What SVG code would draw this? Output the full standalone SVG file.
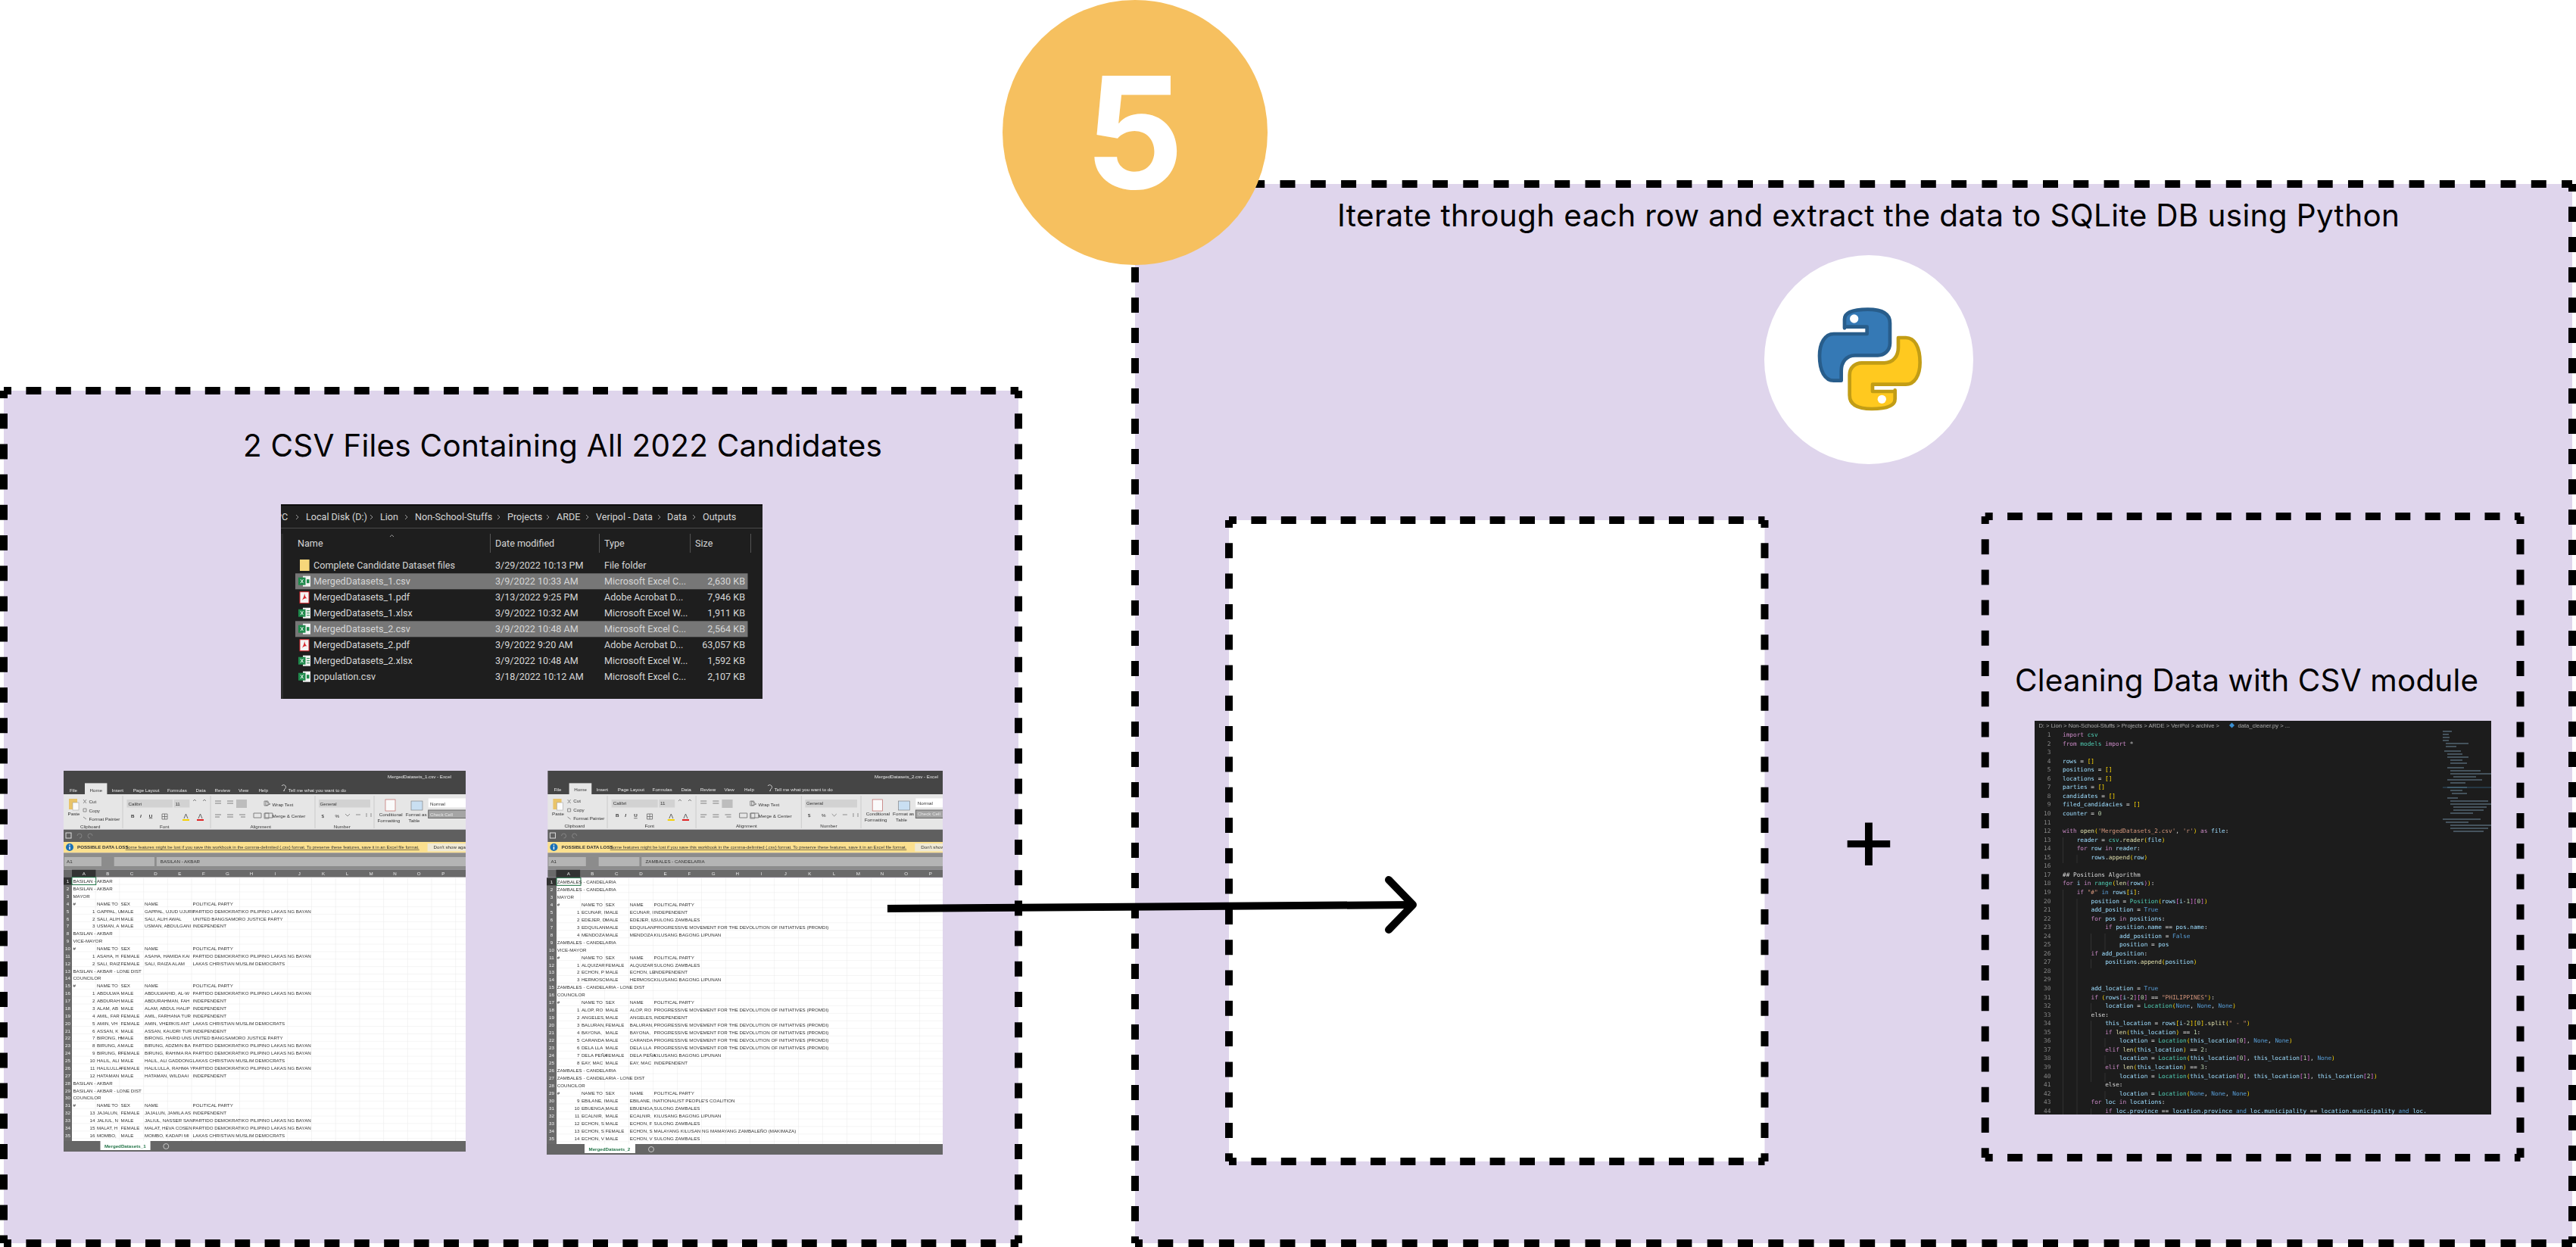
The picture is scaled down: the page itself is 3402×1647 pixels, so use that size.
<svg xmlns="http://www.w3.org/2000/svg" width="3402" height="1647" viewBox="0 0 3402 1647">
<style>
text{font-family:"Inter","Liberation Sans",sans-serif}
.dash{fill:none;stroke:#000;stroke-width:10;stroke-dashoffset:10}
.title{font-size:40.5px;fill:#000}
.fe{font-family:"Roboto","Liberation Sans",sans-serif;font-size:12.6px;fill:#d6d6d6}
.xl text,text.xl{font-family:"Liberation Sans",sans-serif;font-size:6.2px;fill:#333}
.xl .w,.xl text.w{fill:#e8e8e8}
.rn{text-anchor:middle;fill:#f0f0f0}
.r{text-anchor:end}
.code text{font-family:"DejaVu Sans Mono","Liberation Mono",monospace;font-size:7.76px;fill:#d4d4d4}
.code .ln{fill:#858585;text-anchor:end}
.code .crumb{font-family:"Liberation Sans",sans-serif;font-size:7.6px;fill:#a8a8a8}
.k{fill:#c586c0}.v{fill:#9cdcfe}.f{fill:#dcdcaa}.c{fill:#4ec9b0}.b{fill:#569cd6}.s{fill:#ce9178}.g{fill:#6a9955}.y{fill:#ffd700}.m{fill:#da70d6}.n{fill:#b5cea8}
</style>
<defs>
<filter id="soft" x="0" y="0" width="1" height="1"><feGaussianBlur stdDeviation=".2"/></filter>
<pattern id="grid1" patternUnits="userSpaceOnUse" x="95" y="1158.7" width="31.7" height="9.87"><path d="M31.7 0V9.87M0 9.87H31.7" stroke="#e2e2e2" stroke-width=".7" fill="none"/></pattern>
<pattern id="grid2" patternUnits="userSpaceOnUse" x="735" y="1159.4" width="32" height="9.97"><path d="M32 0V9.97M0 9.97H32" stroke="#e2e2e2" stroke-width=".7" fill="none"/></pattern>
<clipPath id="clip1"><rect x="84" y="1018" width="531" height="503"/></clipPath>
<clipPath id="clip2"><rect x="722" y="1018" width="523" height="507"/></clipPath>
<clipPath id="clipfe"><rect x="371" y="666" width="636" height="257"/></clipPath>
<g id="ic-csv"><rect x="6" y="-7" width="10" height="14" fill="#f2f2f2"/><rect x="0" y="-5" width="9.5" height="10" fill="#1f8a4c"/><path d="M3-2.5 6.5 2.5M6.5-2.5 3 2.5" stroke="#fff" stroke-width="1"/><rect x="11" y="-2.5" width="3.5" height="5" fill="#1f8a4c"/></g>
<g id="ic-xlsx"><rect x="6" y="-7" width="10" height="14" fill="#f2f2f2"/><rect x="0" y="-5" width="9.5" height="10" fill="#1f8a4c"/><path d="M3-2.5 6.5 2.5M6.5-2.5 3 2.5" stroke="#fff" stroke-width="1"/><path d="M11-3H15M11 0H15M11 3H15" stroke="#1f8a4c" stroke-width="1"/></g>
<g id="ic-pdf"><rect x="2" y="-7" width="12" height="15" fill="#f4f4f4" stroke="#d8232a" stroke-width="1"/><path d="M5 4C7 0 8-2 8-5 9-2 9 0 12 2 9 1 7 2 5 4Z" fill="#d8232a"/></g>
<g id="xl-chrome">
<rect x="84" y="1018" width="531" height="31" fill="#444"/>
<rect x="112" y="1034.4" width="29.4" height="15" fill="#e6e6e6"/>
<rect x="84" y="1049" width="531" height="46.7" fill="#e6e6e6"/>
<rect x="84" y="1095.7" width="531" height="16.3" fill="#5f5f5f"/>
<rect x="84" y="1112" width="531" height="14.4" fill="#fbe08f"/>
<rect x="84" y="1126.4" width="531" height="22.4" fill="#8c8c8c"/>
<rect x="85" y="1132" width="49" height="12" fill="#b4b4b4"/><rect x="150.7" y="1132" width="53.3" height="12" fill="#b4b4b4"/><rect x="206.8" y="1132" width="408.2" height="12" fill="#b4b4b4"/>
<rect x="84" y="1148.8" width="531" height="10" fill="#6a6a6a"/>
<rect x="95" y="1148.8" width="31.4" height="10" fill="#333"/>
<path d="M162 1051V1094M278 1051V1094M416 1051V1094M494 1051V1094" stroke="#c4c4c4" stroke-width=".8" fill="none"/>
<rect x="167.5" y="1056" width="60.5" height="10.5" fill="#d2d2d2"/><rect x="229.6" y="1056" width="20.7" height="10.5" fill="#d2d2d2"/><rect x="421" y="1056" width="68" height="10.5" fill="#d2d2d2"/>
<rect x="565.7" y="1054.4" width="50" height="12" fill="#fff"/><rect x="565.7" y="1070" width="50" height="10.5" fill="#a5a5a5" stroke="#666" stroke-width="1"/>
<rect x="564.6" y="1114" width="50.4" height="10.5" fill="#efe9d4"/>
<rect x="91" y="1055" width="11" height="14" fill="#e9c46a"/><rect x="96" y="1060" width="8" height="10" fill="#fafafa" stroke="#999" stroke-width=".5"/>
<path d="M110 1056l4 5M114 1056l-4 5M110 1068h4v4h-4zM110 1079l4 3" stroke="#777" stroke-width=".8" fill="none"/>
<path d="M284 1058h8M284 1061h8M300 1058h8M300 1061h8M284 1076h8M284 1079h6M300 1076h8M300 1079h8M316 1076h8M318 1079h6M335 1074h10v6h-10zM350 1074h10v6h-10zM351 1058l6 4-6 2z" stroke="#777" stroke-width=".9" fill="none"/>
<rect x="312" y="1056" width="14" height="11" fill="#bdbdbd"/>
<path d="M349 1058h5v6h-5zM349 1074h6v7h-6zM456 1075l3 3 3-3M470 1076h6M484 1074v5M490 1074v5" stroke="#777" stroke-width=".8" fill="none"/>
<path d="M214 1075h7v7h-7zM217.500 1075v7M214 1078.500h7M255 1058l2-2 2 2M268 1058l2-2 2 2" stroke="#666" stroke-width=".8" fill="none"/>
<rect x="241" y="1082" width="9" height="2" fill="#f5d000"/><rect x="260" y="1082" width="9" height="2" fill="#e02020"/>
<path d="M243 1081l2.500-6 2.500 6M262 1081l2.500-6 2.500 6" stroke="#555" stroke-width=".9" fill="none"/>
<rect x="509" y="1056" width="13" height="15" fill="#fafafa" stroke="#b85450" stroke-width=".6"/><rect x="543" y="1058" width="15" height="12" fill="#c9dff2" stroke="#777" stroke-width=".6"/>
<rect x="87" y="1100" width="7" height="7" fill="none" stroke="#ddd" stroke-width="1"/><path d="M102 1104a3 3 0 1 1 3 3M122 1104a3 3 0 1 0-3 3" stroke="#8d8d8d" stroke-width=".8" fill="none"/>
<circle cx="92" cy="1119" r="5" fill="#1a6fb5"/><rect x="91.3" y="1118" width="1.4" height="4" fill="#fff"/><rect x="91.3" y="1115.6" width="1.4" height="1.4" fill="#fff"/>
<path d="M372 1038a3 3 0 1 1 3.500 4.500v2h-1.500" stroke="#e4e4e4" stroke-width=".8" fill="none"/>
<g class="xl">
<text y="1045.5" class="w"><tspan x="92">File</tspan><tspan x="147.5">Insert</tspan><tspan x="175.7">Page Layout</tspan><tspan x="221">Formulas</tspan><tspan x="258.6">Data</tspan><tspan x="283.6">Review</tspan><tspan x="315">View</tspan><tspan x="341.4">Help</tspan><tspan x="380.7">Tell me what you want to do</tspan></text>
<text x="118.6" y="1045.5">Home</text>
<text x="89.6" y="1077">Paste</text><text x="117.5" y="1060.5">Cut</text><text x="117.5" y="1072.5">Copy</text><text x="117.5" y="1083.5">Format Painter</text><text x="106" y="1093.5">Clipboard</text>
<text x="169.6" y="1063.5">Calibri</text><text x="231.4" y="1063.5">11</text>
<text y="1079.5" font-weight="700"><tspan x="172.9">B</tspan><tspan x="185" font-style="italic">I</tspan><tspan x="196.8" text-decoration="underline">U</tspan></text>
<text x="211" y="1093.5">Font</text><text x="359.6" y="1065">Wrap Text</text><text x="359.6" y="1080">Merge &amp; Center</text><text x="330.4" y="1093.5">Alignment</text>
<text x="422.5" y="1063.5">General</text><text x="424.6" y="1079.5">$</text><text x="442.5" y="1079.5">%</text><text x="440.7" y="1093.5">Number</text>
<text x="500.7" y="1077.5">Conditional</text><text x="498.6" y="1085.5">Formatting</text><text x="535.7" y="1077.5">Format as</text><text x="539.6" y="1085.5">Table</text>
<text x="568" y="1063.5">Normal</text><text x="568" y="1077.5" class="w">Check Cell</text>
<text x="102" y="1121.2" font-weight="700">POSSIBLE DATA LOSS</text>
<text x="165.7" y="1121.2" text-decoration="underline" textLength="388" lengthAdjust="spacingAndGlyphs">Some features might be lost if you save this workbook in the comma-delimited (.csv) format. To preserve these features, save it in an Excel file format.</text>
<text x="572.5" y="1121.2">Don't show again</text>
<text x="88" y="1140">A1</text>
</g>
</g>
</defs>
<rect width="3402" height="1647" fill="#fff"/>

<g id="panel-csv">
<rect x="5" y="516" width="1340" height="1126" fill="#dfd5ec"/>
<path class="dash" stroke-dasharray="20 19.4" d="M5 516H1345M5 1642H1345"/>
<path class="dash" stroke-dasharray="20 20.2" d="M5 516V1642M1345 516V1642"/>
<text class="title" x="321" y="603" textLength="844">2 CSV Files Containing All 2022 Candidates</text>
</g>

<g id="panel-python">
<rect x="1499" y="243" width="1898" height="1399" fill="#dfd5ec"/>
<path class="dash" stroke-dasharray="20 20.3" d="M1499 243H3397M1499 1642H3397"/>
<path class="dash" stroke-dasharray="20 20" d="M1499 243V1642M3397 243V1642"/>
<text class="title" x="1766" y="299" textLength="1403">Iterate through each row and extract the data to SQLite DB using Python</text>
</g>

<g id="step-badge">
<circle cx="1499" cy="175" r="175" fill="#f6c05f"/>
<text x="1498" y="249" text-anchor="middle" font-size="205" font-weight="700" fill="#fff">5</text>
</g>

<g id="python-logo">
<circle cx="2468" cy="475" r="138" fill="#fff"/>
<g transform="translate(2300 320) scale(.3333)" stroke-width="14" stroke-linejoin="round">
<path fill="#3579b5" stroke="#285d8b" d="M408 340V305C408 275 445 266 500 266 560 266 588 285 588 320V400C588 430 565 448 540 448H450C415 448 395 475 395 510V548H365C330 548 309 510 309 450 309 400 330 363 365 363H497V335H408Z"/>
<path fill="#ffc91f" stroke="#c29d15" transform="rotate(180 508 463)" d="M408 340V305C408 275 445 266 500 266 560 266 588 285 588 320V400C588 430 565 448 540 448H450C415 448 395 475 395 510V548H365C330 548 309 510 309 450 309 400 330 363 365 363H497V335H408Z"/>
<circle cx="446" cy="303" r="17" fill="#fff" stroke="none"/><circle cx="556" cy="622" r="17" fill="#fff" stroke="none"/>
</g>
</g>

<g id="file-explorer" clip-path="url(#clipfe)">
<rect x="371" y="666" width="636" height="257" fill="#1e1e1e"/>
<rect x="371" y="666" width="636" height="2" fill="#0d0d0d"/>
<rect x="371" y="697" width="636" height="1" fill="#4a4a4a"/>
<rect x="371" y="705" width="3" height="218" fill="#2c2c2c"/>
<text class="fe" y="687"><tspan x="364">PC</tspan><tspan x="404">Local Disk (D:)</tspan><tspan x="502">Lion</tspan><tspan x="548">Non-School-Stuffs</tspan><tspan x="670">Projects</tspan><tspan x="735">ARDE</tspan><tspan x="787">Veripol - Data</tspan><tspan x="881">Data</tspan><tspan x="928">Outputs</tspan></text>
<path d="M391 680l3 3-3 3M489 680l3 3-3 3M535 680l3 3-3 3M657 680l3 3-3 3M722 680l3 3-3 3M774 680l3 3-3 3M869 680l3 3-3 3M915 680l3 3-3 3M515 709l2.500-2.500 2.500 2.500" fill="none" stroke="#9a9a9a" stroke-width="1"/>
<path d="M647.500 705V730M791.500 705V730M911.600 705V730M991.500 705V730" stroke="#555" stroke-width="1"/>
<text class="fe" y="722"><tspan x="393">Name</tspan><tspan x="654">Date modified</tspan><tspan x="798">Type</tspan><tspan x="918">Size</tspan></text>
<rect x="390" y="757.300" width="597.500" height="21" fill="#777"/><rect x="390" y="820.300" width="597.500" height="21" fill="#777"/>
<rect x="396" y="739" width="12.600" height="15" fill="#f6d77a"/>
<use href="#ic-csv" x="394" y="767.700"/><use href="#ic-pdf" x="394" y="788.700"/><use href="#ic-xlsx" x="394" y="809.700"/><use href="#ic-csv" x="394" y="830.700"/><use href="#ic-pdf" x="394" y="851.700"/><use href="#ic-xlsx" x="394" y="872.700"/><use href="#ic-csv" x="394" y="893.700"/>
<text class="fe" y="751"><tspan x="414">Complete Candidate Dataset files</tspan><tspan x="654">3/29/2022 10:13 PM</tspan><tspan x="798">File folder</tspan></text>
<text class="fe" y="772"><tspan x="414">MergedDatasets_1.csv</tspan><tspan x="654">3/9/2022 10:33 AM</tspan><tspan x="798">Microsoft Excel C...</tspan><tspan x="984" class="r">2,630 KB</tspan></text>
<text class="fe" y="793"><tspan x="414">MergedDatasets_1.pdf</tspan><tspan x="654">3/13/2022 9:25 PM</tspan><tspan x="798">Adobe Acrobat D...</tspan><tspan x="984" class="r">7,946 KB</tspan></text>
<text class="fe" y="814"><tspan x="414">MergedDatasets_1.xlsx</tspan><tspan x="654">3/9/2022 10:32 AM</tspan><tspan x="798">Microsoft Excel W...</tspan><tspan x="984" class="r">1,911 KB</tspan></text>
<text class="fe" y="835"><tspan x="414">MergedDatasets_2.csv</tspan><tspan x="654">3/9/2022 10:48 AM</tspan><tspan x="798">Microsoft Excel C...</tspan><tspan x="984" class="r">2,564 KB</tspan></text>
<text class="fe" y="856"><tspan x="414">MergedDatasets_2.pdf</tspan><tspan x="654">3/9/2022 9:20 AM</tspan><tspan x="798">Adobe Acrobat D...</tspan><tspan x="984" class="r">63,057 KB</tspan></text>
<text class="fe" y="877"><tspan x="414">MergedDatasets_2.xlsx</tspan><tspan x="654">3/9/2022 10:48 AM</tspan><tspan x="798">Microsoft Excel W...</tspan><tspan x="984" class="r">1,592 KB</tspan></text>
<text class="fe" y="898"><tspan x="414">population.csv</tspan><tspan x="654">3/18/2022 10:12 AM</tspan><tspan x="798">Microsoft Excel C...</tspan><tspan x="984" class="r">2,107 KB</tspan></text>
</g>

<g id="sheet-1" class="xl" clip-path="url(#clip1)"><g filter="url(#soft)">
<use href="#xl-chrome"/>
<text x="596" y="1028" class="w r">MergedDatasets_1.csv  -  Excel</text>
<text x="211.800" y="1140">BASILAN - AKBAR</text>
<rect x="95" y="1158.700" width="520" height="348.300" fill="#fff"/><rect x="95" y="1158.700" width="520" height="348.300" fill="url(#grid1)"/>
<rect x="84" y="1158.700" width="11" height="348.300" fill="#6a6a6a"/>
<rect x="84" y="1158.700" width="11" height="9.870" fill="#333"/>
<rect x="95" y="1158.700" width="31.700" height="9.870" fill="none" stroke="#217346" stroke-width="1"/>
<rect x="84" y="1507" width="531" height="14" fill="#666"/><rect x="132.500" y="1507" width="66.100" height="12" fill="#fff"/><circle cx="219.300" cy="1514" r="3.500" fill="none" stroke="#ddd" stroke-width=".8"/>
<text x="137.900" y="1516" font-weight="700" style="fill:#217346">MergedDatasets_1</text>
<text y="1156" class="w" text-anchor="middle"><tspan x="110.700">A</tspan><tspan x="142.300">B</tspan><tspan x="173.900">C</tspan><tspan x="205.500">D</tspan><tspan x="237.300">E</tspan><tspan x="268.800">F</tspan><tspan x="300.400">G</tspan><tspan x="332.100">H</tspan><tspan x="363.600">I</tspan><tspan x="395.300">J</tspan><tspan x="427">K</tspan><tspan x="458.400">L</tspan><tspan x="490.200">M</tspan><tspan x="521.600">N</tspan><tspan x="553.200">O</tspan><tspan x="585.200">P</tspan></text>
<text y="1166.100"><tspan x="89.500" class="rn">1</tspan><tspan x="96.400">BASILAN - AKBAR</tspan></text>
<text y="1176"><tspan x="89.500" class="rn">2</tspan><tspan x="96.400">BASILAN - AKBAR</tspan></text>
<text y="1185.800"><tspan x="89.500" class="rn">3</tspan><tspan x="96.400">MAYOR</tspan></text>
<text y="1195.700"><tspan x="89.500" class="rn">4</tspan><tspan x="96.400">#</tspan><tspan x="127.900">NAME TO</tspan><tspan x="159.600">SEX</tspan><tspan x="191">NAME</tspan><tspan x="254.600">POLITICAL PARTY</tspan></text>
<text y="1205.600"><tspan x="89.500" class="rn">5</tspan><tspan x="125.400" class="r">1</tspan><tspan x="127.900">GAPPAL, U</tspan><tspan x="159.600">MALE</tspan><tspan x="191">GAPPAL, UJUD UJURI</tspan><tspan x="254.600">PARTIDO DEMOKRATIKO PILIPINO LAKAS NG BAYAN</tspan></text>
<text y="1215.500"><tspan x="89.500" class="rn">6</tspan><tspan x="125.400" class="r">2</tspan><tspan x="127.900">SALI, ALIH</tspan><tspan x="159.600">MALE</tspan><tspan x="191">SALI, ALIH AWAL</tspan><tspan x="254.600">UNITED BANGSAMORO JUSTICE PARTY</tspan></text>
<text y="1225.300"><tspan x="89.500" class="rn">7</tspan><tspan x="125.400" class="r">3</tspan><tspan x="127.900">USMAN, A</tspan><tspan x="159.600">MALE</tspan><tspan x="191">USMAN, ABDULGANI</tspan><tspan x="254.600">INDEPENDENT</tspan></text>
<text y="1235.200"><tspan x="89.500" class="rn">8</tspan><tspan x="96.400">BASILAN - AKBAR</tspan></text>
<text y="1245.100"><tspan x="89.500" class="rn">9</tspan><tspan x="96.400">VICE-MAYOR</tspan></text>
<text y="1254.900"><tspan x="89.500" class="rn">10</tspan><tspan x="96.400">#</tspan><tspan x="127.900">NAME TO</tspan><tspan x="159.600">SEX</tspan><tspan x="191">NAME</tspan><tspan x="254.600">POLITICAL PARTY</tspan></text>
<text y="1264.800"><tspan x="89.500" class="rn">11</tspan><tspan x="125.400" class="r">1</tspan><tspan x="127.900">ASAHA, H</tspan><tspan x="159.600">FEMALE</tspan><tspan x="191">ASAHA, HAMIDA KAI</tspan><tspan x="254.600">PARTIDO DEMOKRATIKO PILIPINO LAKAS NG BAYAN</tspan></text>
<text y="1274.700"><tspan x="89.500" class="rn">12</tspan><tspan x="125.400" class="r">2</tspan><tspan x="127.900">SALI, RAIZ</tspan><tspan x="159.600">FEMALE</tspan><tspan x="191">SALI, RAIZA ALAM</tspan><tspan x="254.600">LAKAS CHRISTIAN  MUSLIM DEMOCRATS</tspan></text>
<text y="1284.500"><tspan x="89.500" class="rn">13</tspan><tspan x="96.400">BASILAN - AKBAR - LONE DIST</tspan></text>
<text y="1294.400"><tspan x="89.500" class="rn">14</tspan><tspan x="96.400">COUNCILOR</tspan></text>
<text y="1304.300"><tspan x="89.500" class="rn">15</tspan><tspan x="96.400">#</tspan><tspan x="127.900">NAME TO</tspan><tspan x="159.600">SEX</tspan><tspan x="191">NAME</tspan><tspan x="254.600">POLITICAL PARTY</tspan></text>
<text y="1314.200"><tspan x="89.500" class="rn">16</tspan><tspan x="125.400" class="r">1</tspan><tspan x="127.900">ABDULWA</tspan><tspan x="159.600">MALE</tspan><tspan x="191">ABDULWAHID, AL-W</tspan><tspan x="254.600">PARTIDO DEMOKRATIKO PILIPINO LAKAS NG BAYAN</tspan></text>
<text y="1324"><tspan x="89.500" class="rn">17</tspan><tspan x="125.400" class="r">2</tspan><tspan x="127.900">ABDURAH</tspan><tspan x="159.600">MALE</tspan><tspan x="191">ABDURAHMAN, FAH</tspan><tspan x="254.600">INDEPENDENT</tspan></text>
<text y="1333.900"><tspan x="89.500" class="rn">18</tspan><tspan x="125.400" class="r">3</tspan><tspan x="127.900">ALAM, AB</tspan><tspan x="159.600">MALE</tspan><tspan x="191">ALAM, ABDUL HALIP</tspan><tspan x="254.600">INDEPENDENT</tspan></text>
<text y="1343.800"><tspan x="89.500" class="rn">19</tspan><tspan x="125.400" class="r">4</tspan><tspan x="127.900">AMIL, FAR</tspan><tspan x="159.600">FEMALE</tspan><tspan x="191">AMIL, FARHANA TUR</tspan><tspan x="254.600">INDEPENDENT</tspan></text>
<text y="1353.600"><tspan x="89.500" class="rn">20</tspan><tspan x="125.400" class="r">5</tspan><tspan x="127.900">AMIN, VH</tspan><tspan x="159.600">FEMALE</tspan><tspan x="191">AMIN, VHERKIS ANT</tspan><tspan x="254.600">LAKAS CHRISTIAN  MUSLIM DEMOCRATS</tspan></text>
<text y="1363.500"><tspan x="89.500" class="rn">21</tspan><tspan x="125.400" class="r">6</tspan><tspan x="127.900">ASSAN, K</tspan><tspan x="159.600">MALE</tspan><tspan x="191">ASSAN, KAUDRI TUR</tspan><tspan x="254.600">INDEPENDENT</tspan></text>
<text y="1373.400"><tspan x="89.500" class="rn">22</tspan><tspan x="125.400" class="r">7</tspan><tspan x="127.900">BIRONG, H</tspan><tspan x="159.600">MALE</tspan><tspan x="191">BIRONG, HARID UNS</tspan><tspan x="254.600">UNITED BANGSAMORO JUSTICE PARTY</tspan></text>
<text y="1383.200"><tspan x="89.500" class="rn">23</tspan><tspan x="125.400" class="r">8</tspan><tspan x="127.900">BIRUNG, A</tspan><tspan x="159.600">MALE</tspan><tspan x="191">BIRUNG, ADZMIN BA</tspan><tspan x="254.600">PARTIDO DEMOKRATIKO PILIPINO LAKAS NG BAYAN</tspan></text>
<text y="1393.100"><tspan x="89.500" class="rn">24</tspan><tspan x="125.400" class="r">9</tspan><tspan x="127.900">BIRUNG, R</tspan><tspan x="159.600">FEMALE</tspan><tspan x="191">BIRUNG, RAHIMA RA</tspan><tspan x="254.600">PARTIDO DEMOKRATIKO PILIPINO LAKAS NG BAYAN</tspan></text>
<text y="1403"><tspan x="89.500" class="rn">25</tspan><tspan x="125.400" class="r">10</tspan><tspan x="127.900">HALIL, ALI</tspan><tspan x="159.600">MALE</tspan><tspan x="191">HALIL, ALI GADDONG</tspan><tspan x="254.600">LAKAS CHRISTIAN  MUSLIM DEMOCRATS</tspan></text>
<text y="1412.900"><tspan x="89.500" class="rn">26</tspan><tspan x="125.400" class="r">11</tspan><tspan x="127.900">HALILULLA</tspan><tspan x="159.600">FEMALE</tspan><tspan x="191">HALILULLA, RAHMA Y</tspan><tspan x="254.600">PARTIDO DEMOKRATIKO PILIPINO LAKAS NG BAYAN</tspan></text>
<text y="1422.700"><tspan x="89.500" class="rn">27</tspan><tspan x="125.400" class="r">12</tspan><tspan x="127.900">HATAMAN</tspan><tspan x="159.600">MALE</tspan><tspan x="191">HATAMAN, WILDAAI</tspan><tspan x="254.600">INDEPENDENT</tspan></text>
<text y="1432.600"><tspan x="89.500" class="rn">28</tspan><tspan x="96.400">BASILAN - AKBAR</tspan></text>
<text y="1442.500"><tspan x="89.500" class="rn">29</tspan><tspan x="96.400">BASILAN - AKBAR - LONE DIST</tspan></text>
<text y="1452.300"><tspan x="89.500" class="rn">30</tspan><tspan x="96.400">COUNCILOR</tspan></text>
<text y="1462.200"><tspan x="89.500" class="rn">31</tspan><tspan x="96.400">#</tspan><tspan x="127.900">NAME TO</tspan><tspan x="159.600">SEX</tspan><tspan x="191">NAME</tspan><tspan x="254.600">POLITICAL PARTY</tspan></text>
<text y="1472.100"><tspan x="89.500" class="rn">32</tspan><tspan x="125.400" class="r">13</tspan><tspan x="127.900">JAJALUN,</tspan><tspan x="159.600">FEMALE</tspan><tspan x="191">JAJALUN, JAMILA AS</tspan><tspan x="254.600">INDEPENDENT</tspan></text>
<text y="1481.900"><tspan x="89.500" class="rn">33</tspan><tspan x="125.400" class="r">14</tspan><tspan x="127.900">JALIUL, N</tspan><tspan x="159.600">MALE</tspan><tspan x="191">JALIUL, NASSER SAN</tspan><tspan x="254.600">PARTIDO DEMOKRATIKO PILIPINO LAKAS NG BAYAN</tspan></text>
<text y="1491.800"><tspan x="89.500" class="rn">34</tspan><tspan x="125.400" class="r">15</tspan><tspan x="127.900">MALAT, H</tspan><tspan x="159.600">FEMALE</tspan><tspan x="191">MALAT, HEVA COSEN</tspan><tspan x="254.600">PARTIDO DEMOKRATIKO PILIPINO LAKAS NG BAYAN</tspan></text>
<text y="1501.700"><tspan x="89.500" class="rn">35</tspan><tspan x="125.400" class="r">16</tspan><tspan x="127.900">MOMBO,</tspan><tspan x="159.600">MALE</tspan><tspan x="191">MOMBO, KADAPI MI</tspan><tspan x="254.600">LAKAS CHRISTIAN  MUSLIM DEMOCRATS</tspan></text>
</g></g>

<g id="sheet-2" class="xl" clip-path="url(#clip2)"><g filter="url(#soft)">
<use href="#xl-chrome" transform="translate(638.600 0) scale(1.009 1)"/>
<text x="1239" y="1028" class="w r">MergedDatasets_2.csv  -  Excel</text>
<text x="852.500" y="1140">ZAMBALES - CANDELARIA</text>
<rect x="735" y="1159.400" width="510" height="351.600" fill="#fff"/><rect x="735" y="1159.400" width="510" height="351.600" fill="url(#grid2)"/>
<rect x="722" y="1159.400" width="13" height="351.600" fill="#6a6a6a"/>
<rect x="722" y="1159.400" width="13" height="9.970" fill="#333"/>
<rect x="735" y="1159.400" width="32" height="9.970" fill="none" stroke="#217346" stroke-width="1"/>
<rect x="722" y="1511" width="523" height="14" fill="#666"/><rect x="772" y="1511" width="67" height="12" fill="#fff"/><circle cx="860" cy="1518" r="3.500" fill="none" stroke="#ddd" stroke-width=".8"/>
<text x="777.500" y="1520" font-weight="700" style="fill:#217346">MergedDatasets_2</text>
<text y="1156" class="w" text-anchor="middle"><tspan x="750.700">A</tspan><tspan x="782.300">B</tspan><tspan x="814.300">C</tspan><tspan x="846.400">D</tspan><tspan x="878.500">E</tspan><tspan x="910.500">F</tspan><tspan x="942.200">G</tspan><tspan x="973.700">H</tspan><tspan x="1005.500">I</tspan><tspan x="1037.300">J</tspan><tspan x="1069.300">K</tspan><tspan x="1101.400">L</tspan><tspan x="1133.400">M</tspan><tspan x="1165.100">N</tspan><tspan x="1196.700">O</tspan><tspan x="1228.700">P</tspan></text>
<text y="1166.800"><tspan x="728.500" class="rn">1</tspan><tspan x="735.700">ZAMBALES - CANDELARIA</tspan></text>
<text y="1176.800"><tspan x="728.500" class="rn">2</tspan><tspan x="735.700">ZAMBALES - CANDELARIA</tspan></text>
<text y="1186.700"><tspan x="728.500" class="rn">3</tspan><tspan x="735.700">MAYOR</tspan></text>
<text y="1196.700"><tspan x="728.500" class="rn">4</tspan><tspan x="735.700">#</tspan><tspan x="767.900">NAME TO</tspan><tspan x="799.600">SEX</tspan><tspan x="831.800">NAME</tspan><tspan x="863.600">POLITICAL PARTY</tspan></text>
<text y="1206.700"><tspan x="728.500" class="rn">5</tspan><tspan x="765.400" class="r">1</tspan><tspan x="767.900">ECUNAR, I</tspan><tspan x="799.600">MALE</tspan><tspan x="831.800">ECUNAR, I</tspan><tspan x="863.600">INDEPENDENT</tspan></text>
<text y="1216.700"><tspan x="728.500" class="rn">6</tspan><tspan x="765.400" class="r">2</tspan><tspan x="767.900">EDEJER, D</tspan><tspan x="799.600">MALE</tspan><tspan x="831.800">EDEJER, IL</tspan><tspan x="863.600">SULONG ZAMBALES</tspan></text>
<text y="1226.600"><tspan x="728.500" class="rn">7</tspan><tspan x="765.400" class="r">3</tspan><tspan x="767.900">EDQUILAN</tspan><tspan x="799.600">MALE</tspan><tspan x="831.800">EDQUILAN</tspan><tspan x="863.600">PROGRESSIVE MOVEMENT FOR THE DEVOLUTION OF INITIATIVES (PROMDI)</tspan></text>
<text y="1236.600"><tspan x="728.500" class="rn">8</tspan><tspan x="765.400" class="r">4</tspan><tspan x="767.900">MENDOZA</tspan><tspan x="799.600">MALE</tspan><tspan x="831.800">MENDOZA</tspan><tspan x="863.600">KILUSANG BAGONG LIPUNAN</tspan></text>
<text y="1246.600"><tspan x="728.500" class="rn">9</tspan><tspan x="735.700">ZAMBALES - CANDELARIA</tspan></text>
<text y="1256.500"><tspan x="728.500" class="rn">10</tspan><tspan x="735.700">VICE-MAYOR</tspan></text>
<text y="1266.500"><tspan x="728.500" class="rn">11</tspan><tspan x="735.700">#</tspan><tspan x="767.900">NAME TO</tspan><tspan x="799.600">SEX</tspan><tspan x="831.800">NAME</tspan><tspan x="863.600">POLITICAL PARTY</tspan></text>
<text y="1276.500"><tspan x="728.500" class="rn">12</tspan><tspan x="765.400" class="r">1</tspan><tspan x="767.900">ALQUIZAR</tspan><tspan x="799.600">FEMALE</tspan><tspan x="831.800">ALQUIZAR</tspan><tspan x="863.600">SULONG ZAMBALES</tspan></text>
<text y="1286.400"><tspan x="728.500" class="rn">13</tspan><tspan x="765.400" class="r">2</tspan><tspan x="767.900">ECHON, P</tspan><tspan x="799.600">MALE</tspan><tspan x="831.800">ECHON, LE</tspan><tspan x="863.600">INDEPENDENT</tspan></text>
<text y="1296.400"><tspan x="728.500" class="rn">14</tspan><tspan x="765.400" class="r">3</tspan><tspan x="767.900">HERMOSC</tspan><tspan x="799.600">MALE</tspan><tspan x="831.800">HERMOSC</tspan><tspan x="863.600">KILUSANG BAGONG LIPUNAN</tspan></text>
<text y="1306.400"><tspan x="728.500" class="rn">15</tspan><tspan x="735.700">ZAMBALES - CANDELARIA - LONE DIST</tspan></text>
<text y="1316.300"><tspan x="728.500" class="rn">16</tspan><tspan x="735.700">COUNCILOR</tspan></text>
<text y="1326.300"><tspan x="728.500" class="rn">17</tspan><tspan x="735.700">#</tspan><tspan x="767.900">NAME TO</tspan><tspan x="799.600">SEX</tspan><tspan x="831.800">NAME</tspan><tspan x="863.600">POLITICAL PARTY</tspan></text>
<text y="1336.300"><tspan x="728.500" class="rn">18</tspan><tspan x="765.400" class="r">1</tspan><tspan x="767.900">ALOP, RO</tspan><tspan x="799.600">MALE</tspan><tspan x="831.800">ALOP, RO</tspan><tspan x="863.600">PROGRESSIVE MOVEMENT FOR THE DEVOLUTION OF INITIATIVES (PROMDI)</tspan></text>
<text y="1346.200"><tspan x="728.500" class="rn">19</tspan><tspan x="765.400" class="r">2</tspan><tspan x="767.900">ANGELES,</tspan><tspan x="799.600">MALE</tspan><tspan x="831.800">ANGELES,</tspan><tspan x="863.600">INDEPENDENT</tspan></text>
<text y="1356.200"><tspan x="728.500" class="rn">20</tspan><tspan x="765.400" class="r">3</tspan><tspan x="767.900">BALURAN,</tspan><tspan x="799.600">FEMALE</tspan><tspan x="831.800">BALURAN,</tspan><tspan x="863.600">PROGRESSIVE MOVEMENT FOR THE DEVOLUTION OF INITIATIVES (PROMDI)</tspan></text>
<text y="1366.200"><tspan x="728.500" class="rn">21</tspan><tspan x="765.400" class="r">4</tspan><tspan x="767.900">BAYONA,</tspan><tspan x="799.600">MALE</tspan><tspan x="831.800">BAYONA,</tspan><tspan x="863.600">PROGRESSIVE MOVEMENT FOR THE DEVOLUTION OF INITIATIVES (PROMDI)</tspan></text>
<text y="1376.100"><tspan x="728.500" class="rn">22</tspan><tspan x="765.400" class="r">5</tspan><tspan x="767.900">CARANDA</tspan><tspan x="799.600">MALE</tspan><tspan x="831.800">CARANDA</tspan><tspan x="863.600">PROGRESSIVE MOVEMENT FOR THE DEVOLUTION OF INITIATIVES (PROMDI)</tspan></text>
<text y="1386.100"><tspan x="728.500" class="rn">23</tspan><tspan x="765.400" class="r">6</tspan><tspan x="767.900">DELA LLA</tspan><tspan x="799.600">MALE</tspan><tspan x="831.800">DELA LLA</tspan><tspan x="863.600">PROGRESSIVE MOVEMENT FOR THE DEVOLUTION OF INITIATIVES (PROMDI)</tspan></text>
<text y="1396.100"><tspan x="728.500" class="rn">24</tspan><tspan x="765.400" class="r">7</tspan><tspan x="767.900">DELA PEÑA</tspan><tspan x="799.600">FEMALE</tspan><tspan x="831.800">DELA PEÑA</tspan><tspan x="863.600">KILUSANG BAGONG LIPUNAN</tspan></text>
<text y="1406.100"><tspan x="728.500" class="rn">25</tspan><tspan x="765.400" class="r">8</tspan><tspan x="767.900">EAY, MAC</tspan><tspan x="799.600">MALE</tspan><tspan x="831.800">EAY, MAC</tspan><tspan x="863.600">INDEPENDENT</tspan></text>
<text y="1416"><tspan x="728.500" class="rn">26</tspan><tspan x="735.700">ZAMBALES - CANDELARIA</tspan></text>
<text y="1426"><tspan x="728.500" class="rn">27</tspan><tspan x="735.700">ZAMBALES - CANDELARIA - LONE DIST</tspan></text>
<text y="1436"><tspan x="728.500" class="rn">28</tspan><tspan x="735.700">COUNCILOR</tspan></text>
<text y="1445.900"><tspan x="728.500" class="rn">29</tspan><tspan x="735.700">#</tspan><tspan x="767.900">NAME TO</tspan><tspan x="799.600">SEX</tspan><tspan x="831.800">NAME</tspan><tspan x="863.600">POLITICAL PARTY</tspan></text>
<text y="1455.900"><tspan x="728.500" class="rn">30</tspan><tspan x="765.400" class="r">9</tspan><tspan x="767.900">EBILANE, I</tspan><tspan x="799.600">MALE</tspan><tspan x="831.800">EBILANE, I</tspan><tspan x="863.600">NATIONALIST PEOPLE'S COALITION</tspan></text>
<text y="1465.900"><tspan x="728.500" class="rn">31</tspan><tspan x="765.400" class="r">10</tspan><tspan x="767.900">EBUENGA,</tspan><tspan x="799.600">MALE</tspan><tspan x="831.800">EBUENGA,</tspan><tspan x="863.600">SULONG ZAMBALES</tspan></text>
<text y="1475.800"><tspan x="728.500" class="rn">32</tspan><tspan x="765.400" class="r">11</tspan><tspan x="767.900">ECALNIR,</tspan><tspan x="799.600">MALE</tspan><tspan x="831.800">ECALNIR,</tspan><tspan x="863.600">KILUSANG BAGONG LIPUNAN</tspan></text>
<text y="1485.800"><tspan x="728.500" class="rn">33</tspan><tspan x="765.400" class="r">12</tspan><tspan x="767.900">ECHON, S</tspan><tspan x="799.600">MALE</tspan><tspan x="831.800">ECHON, F</tspan><tspan x="863.600">SULONG ZAMBALES</tspan></text>
<text y="1495.800"><tspan x="728.500" class="rn">34</tspan><tspan x="765.400" class="r">13</tspan><tspan x="767.900">ECHON, S</tspan><tspan x="799.600">FEMALE</tspan><tspan x="831.800">ECHON, S</tspan><tspan x="863.600">MALAYANG KILUSAN NG MAMAYANG ZAMBALEÑO (MAKIMAZA)</tspan></text>
<text y="1505.800"><tspan x="728.500" class="rn">35</tspan><tspan x="765.400" class="r">14</tspan><tspan x="767.900">ECHON, V</tspan><tspan x="799.600">MALE</tspan><tspan x="831.800">ECHON, V</tspan><tspan x="863.600">SULONG ZAMBALES</tspan></text>
</g></g>

<g id="white-box">
<rect x="1623" y="687" width="707.500" height="847" fill="#fff"/>
<path class="dash" stroke-dasharray="20 19.400" d="M1623 687H2330.500M1623 1534H2330.500"/>
<path class="dash" stroke-dasharray="20 20.300" d="M1623 687V1534M2330.500 687V1534"/>
</g>

<text id="plus" x="2468" y="1149" text-anchor="middle" font-size="120" fill="#000">+</text>

<g id="cleaning-box">
<path class="dash" stroke-dasharray="20 19.400" d="M2621.700 682H3328.500M2621.700 1529H3328.500"/>
<path class="dash" stroke-dasharray="20 20.200" d="M2621.700 682V1529M3328.500 682V1529"/>
<text class="title" x="2661" y="913" textLength="612">Cleaning Data with CSV module</text>
</g>

<g id="code-shot" class="code"><g filter="url(#soft)">
<rect x="2687" y="952" width="603" height="520" fill="#1e1e1e"/>
<text class="crumb" x="2692.400" y="960.500">D: &gt; Lion &gt; Non-School-Stuffs &gt; Projects &gt; ARDE &gt; VeriPol &gt; archive &gt;</text>
<rect x="2945" y="955.500" width="5" height="5" fill="#3b8fd0" transform="rotate(45 2947.500 958)"/>
<text class="crumb" x="2955.500" y="960.500">data_cleaner.py &gt; ...</text>
<path d="M2724.500 1106V1140M2743 1129V1140M2724.500 1175V1472M2743 1187V1472M2761.500 1233V1256M2780 1233V1256M2761.500 1267V1279M2761.500 1325V1337M2761.500 1348V1429M2780 1371V1383M2780 1394V1406M2780 1417V1429M2780 1441V1452M2761.500 1464V1472" stroke="#3c3c3c" stroke-width=".7" fill="none"/>
<path d="M3226 966h12M3226 970h8M3226 974h9M3226 978h8M3230 982h30M3230 986h14M3228 992h22M3232 996h20M3232 1000h28M3236 1004h16M3236 1008h22M3232 1014h22M3236 1018h40M3236 1022h54M3240 1026h30M3232 1030h46M3236 1034h20M3232 1040h26M3236 1044h16M3238 1048h20M3232 1054h14M3236 1058h50M3236 1062h54M3240 1066h44M3240 1070h40M3236 1074h30M3226 1082h50M3230 1086h30M3236 1090h54M3236 1094h50M3240 1098h40" stroke="#7f9fb8" stroke-width="1.300" fill="none" opacity=".55"/>
<path d="M3226 1040h64" stroke="#3a6d8c" stroke-width="1" opacity=".7"/>
<text class="ln" x="2708.400" y="973">1</text><text class="ln" x="2708.400" y="984.600">2</text><text class="ln" x="2708.400" y="996.100">3</text><text class="ln" x="2708.400" y="1007.700">4</text><text class="ln" x="2708.400" y="1019.200">5</text><text class="ln" x="2708.400" y="1030.800">6</text><text class="ln" x="2708.400" y="1042.300">7</text><text class="ln" x="2708.400" y="1053.900">8</text><text class="ln" x="2708.400" y="1065.400">9</text><text class="ln" x="2708.400" y="1077">10</text><text class="ln" x="2708.400" y="1088.500">11</text><text class="ln" x="2708.400" y="1100.100">12</text><text class="ln" x="2708.400" y="1111.600">13</text><text class="ln" x="2708.400" y="1123.200">14</text><text class="ln" x="2708.400" y="1134.700">15</text><text class="ln" x="2708.400" y="1146.300">16</text><text class="ln" x="2708.400" y="1157.800">17</text><text class="ln" x="2708.400" y="1169.400">18</text><text class="ln" x="2708.400" y="1180.900">19</text><text class="ln" x="2708.400" y="1192.500">20</text><text class="ln" x="2708.400" y="1204">21</text><text class="ln" x="2708.400" y="1215.600">22</text><text class="ln" x="2708.400" y="1227.100">23</text><text class="ln" x="2708.400" y="1238.700">24</text><text class="ln" x="2708.400" y="1250.200">25</text><text class="ln" x="2708.400" y="1261.800">26</text><text class="ln" x="2708.400" y="1273.300">27</text><text class="ln" x="2708.400" y="1284.900">28</text><text class="ln" x="2708.400" y="1296.400">29</text><text class="ln" x="2708.400" y="1308">30</text><text class="ln" x="2708.400" y="1319.500">31</text><text class="ln" x="2708.400" y="1331.100">32</text><text class="ln" x="2708.400" y="1342.600">33</text><text class="ln" x="2708.400" y="1354.200">34</text><text class="ln" x="2708.400" y="1365.700">35</text><text class="ln" x="2708.400" y="1377.300">36</text><text class="ln" x="2708.400" y="1388.800">37</text><text class="ln" x="2708.400" y="1400.400">38</text><text class="ln" x="2708.400" y="1411.900">39</text><text class="ln" x="2708.400" y="1423.500">40</text><text class="ln" x="2708.400" y="1435">41</text><text class="ln" x="2708.400" y="1446.600">42</text><text class="ln" x="2708.400" y="1458.100">43</text><text class="ln" x="2708.400" y="1469.700">44</text>
<text x="2724" y="973"><tspan class="k">import</tspan> <tspan class="c">csv</tspan></text>
<text x="2724" y="984.600"><tspan class="k">from</tspan> <tspan class="c">models</tspan> <tspan class="k">import</tspan> *</text>
<text x="2724" y="1007.700"><tspan class="v">rows</tspan> = <tspan class="y">[]</tspan></text>
<text x="2724" y="1019.200"><tspan class="v">positions</tspan> = <tspan class="y">[]</tspan></text>
<text x="2724" y="1030.800"><tspan class="v">locations</tspan> = <tspan class="y">[]</tspan></text>
<text x="2724" y="1042.300"><tspan class="v">parties</tspan> = <tspan class="y">[]</tspan></text>
<text x="2724" y="1053.900"><tspan class="v">candidates</tspan> = <tspan class="y">[]</tspan></text>
<text x="2724" y="1065.400"><tspan class="v">filed_candidacies</tspan> = <tspan class="y">[]</tspan></text>
<text x="2724" y="1077"><tspan class="v">counter</tspan> = <tspan class="n">0</tspan></text>
<text x="2724" y="1100.100"><tspan class="k">with</tspan> <tspan class="f">open</tspan><tspan class="y">(</tspan><tspan class="s">'MergedDatasets_2.csv'</tspan>, <tspan class="s">'r'</tspan><tspan class="y">)</tspan> <tspan class="k">as</tspan> <tspan class="v">file</tspan>:</text>
<text x="2742.700" y="1111.600"><tspan class="v">reader</tspan> = <tspan class="c">csv</tspan>.<tspan class="f">reader</tspan><tspan class="y">(</tspan><tspan class="v">file</tspan><tspan class="y">)</tspan></text>
<text x="2742.700" y="1123.200"><tspan class="k">for</tspan> <tspan class="v">row</tspan> <tspan class="k">in</tspan> <tspan class="v">reader</tspan>:</text>
<text x="2761.500" y="1134.700"><tspan class="v">rows</tspan>.<tspan class="f">append</tspan><tspan class="y">(</tspan><tspan class="v">row</tspan><tspan class="y">)</tspan></text>
<text x="2724" y="1157.800" class="g">## Positions Algorithm</text>
<text x="2724" y="1169.400"><tspan class="k">for</tspan> <tspan class="v">i</tspan> <tspan class="k">in</tspan> <tspan class="c">range</tspan><tspan class="y">(</tspan><tspan class="f">len</tspan><tspan class="m">(</tspan><tspan class="v">rows</tspan><tspan class="m">)</tspan><tspan class="y">)</tspan>:</text>
<text x="2742.700" y="1180.900"><tspan class="k">if</tspan> <tspan class="s">"#"</tspan> <tspan class="b">in</tspan> <tspan class="v">rows</tspan><tspan class="y">[</tspan><tspan class="v">i</tspan><tspan class="y">]</tspan>:</text>
<text x="2761.500" y="1192.500"><tspan class="v">position</tspan> = <tspan class="c">Position</tspan><tspan class="y">(</tspan><tspan class="v">rows</tspan><tspan class="m">[</tspan><tspan class="v">i</tspan>-<tspan class="n">1</tspan><tspan class="m">][</tspan><tspan class="n">0</tspan><tspan class="m">]</tspan><tspan class="y">)</tspan></text>
<text x="2761.500" y="1204"><tspan class="v">add_position</tspan> = <tspan class="b">True</tspan></text>
<text x="2761.500" y="1215.600"><tspan class="k">for</tspan> <tspan class="v">pos</tspan> <tspan class="k">in</tspan> <tspan class="v">positions</tspan>:</text>
<text x="2780.200" y="1227.100"><tspan class="k">if</tspan> <tspan class="v">position.name</tspan> == <tspan class="v">pos.name</tspan>:</text>
<text x="2799" y="1238.700"><tspan class="v">add_position</tspan> = <tspan class="b">False</tspan></text>
<text x="2799" y="1250.200"><tspan class="v">position</tspan> = <tspan class="v">pos</tspan></text>
<text x="2761.500" y="1261.800"><tspan class="k">if</tspan> <tspan class="v">add_position</tspan>:</text>
<text x="2780.200" y="1273.300"><tspan class="v">positions</tspan>.<tspan class="f">append</tspan><tspan class="y">(</tspan><tspan class="v">position</tspan><tspan class="y">)</tspan></text>
<text x="2761.500" y="1308"><tspan class="v">add_location</tspan> = <tspan class="b">True</tspan></text>
<text x="2761.500" y="1319.500"><tspan class="k">if</tspan> <tspan class="y">(</tspan><tspan class="v">rows</tspan><tspan class="m">[</tspan><tspan class="v">i</tspan>-<tspan class="n">2</tspan><tspan class="m">][</tspan><tspan class="n">0</tspan><tspan class="m">]</tspan> == <tspan class="s">"PHILIPPINES"</tspan><tspan class="y">)</tspan>:</text>
<text x="2780.200" y="1331.100"><tspan class="v">location</tspan> = <tspan class="c">Location</tspan><tspan class="y">(</tspan><tspan class="b">None</tspan>, <tspan class="b">None</tspan>, <tspan class="b">None</tspan><tspan class="y">)</tspan></text>
<text x="2761.500" y="1342.600" class="k">else:</text>
<text x="2780.200" y="1354.200"><tspan class="v">this_location</tspan> = <tspan class="v">rows</tspan><tspan class="y">[</tspan><tspan class="v">i</tspan>-<tspan class="n">2</tspan><tspan class="y">][</tspan><tspan class="n">0</tspan><tspan class="y">]</tspan>.<tspan class="f">split</tspan><tspan class="y">(</tspan><tspan class="s">" - "</tspan><tspan class="y">)</tspan></text>
<text x="2780.200" y="1365.700"><tspan class="k">if</tspan> <tspan class="f">len</tspan><tspan class="y">(</tspan><tspan class="v">this_location</tspan><tspan class="y">)</tspan> == <tspan class="n">1</tspan>:</text>
<text x="2799" y="1377.300"><tspan class="v">location</tspan> = <tspan class="c">Location</tspan><tspan class="y">(</tspan><tspan class="v">this_location</tspan><tspan class="m">[</tspan><tspan class="n">0</tspan><tspan class="m">]</tspan>, <tspan class="b">None</tspan>, <tspan class="b">None</tspan><tspan class="y">)</tspan></text>
<text x="2780.200" y="1388.800"><tspan class="k">elif</tspan> <tspan class="f">len</tspan><tspan class="y">(</tspan><tspan class="v">this_location</tspan><tspan class="y">)</tspan> == <tspan class="n">2</tspan>:</text>
<text x="2799" y="1400.400"><tspan class="v">location</tspan> = <tspan class="c">Location</tspan><tspan class="y">(</tspan><tspan class="v">this_location</tspan><tspan class="m">[</tspan><tspan class="n">0</tspan><tspan class="m">]</tspan>, <tspan class="v">this_location</tspan><tspan class="m">[</tspan><tspan class="n">1</tspan><tspan class="m">]</tspan>, <tspan class="b">None</tspan><tspan class="y">)</tspan></text>
<text x="2780.200" y="1411.900"><tspan class="k">elif</tspan> <tspan class="f">len</tspan><tspan class="y">(</tspan><tspan class="v">this_location</tspan><tspan class="y">)</tspan> == <tspan class="n">3</tspan>:</text>
<text x="2799" y="1423.500"><tspan class="v">location</tspan> = <tspan class="c">Location</tspan><tspan class="y">(</tspan><tspan class="v">this_location</tspan><tspan class="m">[</tspan><tspan class="n">0</tspan><tspan class="m">]</tspan>, <tspan class="v">this_location</tspan><tspan class="m">[</tspan><tspan class="n">1</tspan><tspan class="m">]</tspan>, <tspan class="v">this_location</tspan><tspan class="m">[</tspan><tspan class="n">2</tspan><tspan class="m">]</tspan><tspan class="y">)</tspan></text>
<text x="2780.200" y="1435" class="k">else:</text>
<text x="2799" y="1446.600"><tspan class="v">location</tspan> = <tspan class="c">Location</tspan><tspan class="y">(</tspan><tspan class="b">None</tspan>, <tspan class="b">None</tspan>, <tspan class="b">None</tspan><tspan class="y">)</tspan></text>
<text x="2761.500" y="1458.100"><tspan class="k">for</tspan> <tspan class="v">loc</tspan> <tspan class="k">in</tspan> <tspan class="v">locations</tspan>:</text>
<text x="2780.200" y="1469.700"><tspan class="k">if</tspan> <tspan class="v">loc.province</tspan> == <tspan class="v">location.province</tspan> <tspan class="b">and</tspan> <tspan class="v">loc.municipality</tspan> == <tspan class="v">location.municipality</tspan> <tspan class="b">and</tspan> <tspan class="v">loc.</tspan></text>
</g></g>

<g id="connectors" fill="none" stroke="#000" stroke-linecap="round" stroke-linejoin="round">
<path d="M1172 1200 1866 1195" stroke-width="10" stroke-linecap="butt"/>
<path d="M1834 1162 1866 1195 1834 1228" stroke-width="10"/>
</g>
</svg>
